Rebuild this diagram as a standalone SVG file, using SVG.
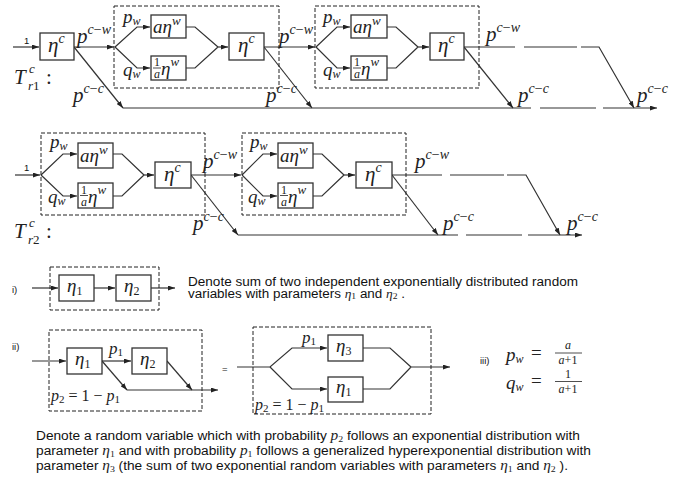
<svg xmlns="http://www.w3.org/2000/svg" width="688" height="479" viewBox="0 0 688 479">
<defs>
<marker id="ah" markerUnits="userSpaceOnUse" markerWidth="7" markerHeight="5" refX="7" refY="2.5" orient="auto"><path d="M0,0 L7,2.5 L0,5 z" fill="#222"/></marker>
</defs>
<style>
.box{fill:#fff;stroke:#333;stroke-width:1.3}
.dash{fill:none;stroke:#222;stroke-width:1;stroke-dasharray:4 2}
.ln{fill:none;stroke:#333;stroke-width:1.2}
.m{font-family:"Liberation Serif","DejaVu Serif",serif;font-style:italic;fill:#222}
.u{font-style:normal}
.big{font-size:21px}
.mid{font-size:19px}
.lbl{font-size:17px}
.sp{font-size:14px}
.sw{font-size:13px}
.sb{font-size:11px}
.fr{font-size:12px}
.t{font-family:"Liberation Sans",Arial,sans-serif;font-size:12.5px;fill:#111}
.s{font-family:"Liberation Sans",Arial,sans-serif;font-size:9.5px;fill:#111}
</style>
<rect width="688" height="479" fill="#fff"/>

<g id="connectors">
<path class="ln" d="M13,47 H39" marker-end="url(#ah)"/>
<path class="ln" d="M74,47 H114" marker-end="url(#ah)"/>
<path class="ln" d="M115,47 L137,27 H150" marker-end="url(#ah)"/>
<path class="ln" d="M115,47 L137,68 H150" marker-end="url(#ah)"/>
<path class="ln" d="M186,27 H195 L218,47 M186,68 H195 L218,47"/>
<path class="ln" d="M218,47 H228" marker-end="url(#ah)"/>
<path class="ln" d="M264,47 H315" marker-end="url(#ah)"/>
<path class="ln" d="M316,47 L337,27 H350" marker-end="url(#ah)"/>
<path class="ln" d="M316,47 L337,68 H350" marker-end="url(#ah)"/>
<path class="ln" d="M387,27 H396 L418,47 M387,68 H396 L418,47"/>
<path class="ln" d="M418,47 H429" marker-end="url(#ah)"/>
<path class="ln" d="M464,47 H515 M524,47 H577"/>
<path class="ln" d="M581,47 H599 L634,108" marker-end="url(#ah)"/>
<path class="ln" d="M74,47 L123,108" marker-end="url(#ah)"/>
<path class="ln" d="M264,47 L312,108" marker-end="url(#ah)"/>
<path class="ln" d="M464,47 L513,108" marker-end="url(#ah)"/>
<path class="ln" d="M123,108 H531 M540,108 H596"/>
<path class="ln" d="M603,108 H657" marker-end="url(#ah)"/>

<path class="ln" d="M15,175 H40" marker-end="url(#ah)"/>
<path class="ln" d="M41,175 L63,154 H77" marker-end="url(#ah)"/>
<path class="ln" d="M41,175 L63,196 H77" marker-end="url(#ah)"/>
<path class="ln" d="M113,154 H122 L144,175 M113,196 H122 L144,175"/>
<path class="ln" d="M144,175 H154" marker-end="url(#ah)"/>
<path class="ln" d="M191,175 H241" marker-end="url(#ah)"/>
<path class="ln" d="M191,175 L238,235" marker-end="url(#ah)"/>
<path class="ln" d="M242,175 L263,154 H277" marker-end="url(#ah)"/>
<path class="ln" d="M242,175 L263,196 H277" marker-end="url(#ah)"/>
<path class="ln" d="M313,154 H322 L344,175 M313,196 H322 L344,175"/>
<path class="ln" d="M344,175 H355" marker-end="url(#ah)"/>
<path class="ln" d="M392,175 H442 M450,175 H504"/>
<path class="ln" d="M507,175 H526 L560,235" marker-end="url(#ah)"/>
<path class="ln" d="M392,175 L438,235" marker-end="url(#ah)"/>
<path class="ln" d="M238,235 H458 M466,235 H522"/>
<path class="ln" d="M528,235 H582" marker-end="url(#ah)"/>

<path class="ln" d="M32,288 H58" marker-end="url(#ah)"/>
<path class="ln" d="M94,288 H115" marker-end="url(#ah)"/>
<path class="ln" d="M151,288 H175" marker-end="url(#ah)"/>

<path class="ln" d="M32,361 H66" marker-end="url(#ah)"/>
<path class="ln" d="M102,361 H131" marker-end="url(#ah)"/>
<path class="ln" d="M102,361 L127,390" marker-end="url(#ah)"/>
<path class="ln" d="M167,361 L192,390" marker-end="url(#ah)"/>
<path class="ln" d="M127,390 H218" marker-end="url(#ah)"/>
<path class="ln" d="M237,367 H270 L292,348 H327" marker-end="url(#ah)"/>
<path class="ln" d="M270,367 L292,389 H327" marker-end="url(#ah)"/>
<path class="ln" d="M363,348 H390 L411,367 M363,389 H390 L411,367"/>
<path class="ln" d="M411,367 H450" marker-end="url(#ah)"/>
</g>

<g id="groups">
<rect class="dash" x="114" y="6" width="165" height="82"/>
<rect class="dash" x="315" y="6" width="164" height="82"/>
<rect class="dash" x="41" y="133" width="164" height="82"/>
<rect class="dash" x="242" y="133" width="164" height="82"/>
<rect class="dash" x="50" y="267" width="109" height="43"/>
<rect class="dash" x="49" y="330" width="153" height="81"/>
<rect class="dash" x="253" y="327" width="178" height="87"/>
</g>

<!-- Row 1 -->
<g id="r1-c1"><rect class="box" x="40" y="33" width="34" height="27"/><text class="m big" x="48" y="52">η<tspan class="sp" dy="-9">c</tspan></text></g>
<g id="r1-w1a"><rect class="box" x="151" y="15" width="35" height="23"/><text class="m mid" x="153" y="33">aη<tspan class="sw" dy="-8">w</tspan></text></g>
<g id="r1-w1b"><rect class="box" x="151" y="56" width="35" height="24"/><text class="m fr u" x="157" y="66" text-anchor="middle">1</text><line x1="153" y1="68" x2="161" y2="68" stroke="#222" stroke-width="0.8"/><text class="m fr" x="157" y="78" text-anchor="middle">a</text><text class="m mid" x="161" y="75">η<tspan class="sw" dy="-9">w</tspan></text></g>
<g id="r1-c2"><rect class="box" x="229" y="33" width="35" height="27"/><text class="m big" x="238" y="52">η<tspan class="sp" dy="-9">c</tspan></text></g>
<g id="r1-w2a"><rect class="box" x="351" y="15" width="36" height="23"/><text class="m mid" x="353" y="33">aη<tspan class="sw" dy="-8">w</tspan></text></g>
<g id="r1-w2b"><rect class="box" x="351" y="56" width="36" height="24"/><text class="m fr u" x="357" y="66" text-anchor="middle">1</text><line x1="353" y1="68" x2="361" y2="68" stroke="#222" stroke-width="0.8"/><text class="m fr" x="357" y="78" text-anchor="middle">a</text><text class="m mid" x="361" y="75">η<tspan class="sw" dy="-9">w</tspan></text></g>
<g id="r1-c3"><rect class="box" x="430" y="33" width="34" height="27"/><text class="m big" x="438" y="52">η<tspan class="sp" dy="-9">c</tspan></text></g>

<!-- Row 2 -->
<g id="r2-w1a"><rect class="box" x="78" y="143" width="35" height="25"/><text class="m mid" x="80" y="162">aη<tspan class="sw" dy="-8">w</tspan></text></g>
<g id="r2-w1b"><rect class="box" x="78" y="183" width="35" height="25"/><text class="m fr u" x="84" y="193.5" text-anchor="middle">1</text><line x1="80" y1="195.5" x2="88" y2="195.5" stroke="#222" stroke-width="0.8"/><text class="m fr" x="84" y="206" text-anchor="middle">a</text><text class="m mid" x="88" y="203">η<tspan class="sw" dy="-9">w</tspan></text></g>
<g id="r2-c1"><rect class="box" x="155" y="162" width="36" height="26"/><text class="m big" x="164" y="181">η<tspan class="sp" dy="-9">c</tspan></text></g>
<g id="r2-w2a"><rect class="box" x="278" y="143" width="35" height="25"/><text class="m mid" x="280" y="162">aη<tspan class="sw" dy="-8">w</tspan></text></g>
<g id="r2-w2b"><rect class="box" x="278" y="183" width="35" height="25"/><text class="m fr u" x="284" y="193.5" text-anchor="middle">1</text><line x1="280" y1="195.5" x2="288" y2="195.5" stroke="#222" stroke-width="0.8"/><text class="m fr" x="284" y="206" text-anchor="middle">a</text><text class="m mid" x="288" y="203">η<tspan class="sw" dy="-9">w</tspan></text></g>
<g id="r2-c2"><rect class="box" x="356" y="162" width="36" height="26"/><text class="m big" x="365" y="181">η<tspan class="sp" dy="-9">c</tspan></text></g>

<!-- part i -->
<g id="i-e1"><rect class="box" x="59" y="275" width="35" height="26"/><text class="m mid" x="67" y="292">η<tspan class="fr u" dy="3">1</tspan></text></g>
<g id="i-e2"><rect class="box" x="116" y="275" width="35" height="26"/><text class="m mid" x="124" y="292">η<tspan class="fr u" dy="3">2</tspan></text></g>

<!-- part ii -->
<g id="ii-e1"><rect class="box" x="67" y="348" width="35" height="26"/><text class="m mid" x="75" y="365">η<tspan class="fr u" dy="3">1</tspan></text></g>
<g id="ii-e2"><rect class="box" x="132" y="348" width="35" height="26"/><text class="m mid" x="140" y="365">η<tspan class="fr u" dy="3">2</tspan></text></g>
<g id="ii-e3"><rect class="box" x="328" y="335" width="35" height="26"/><text class="m mid" x="336" y="352">η<tspan class="fr u" dy="3">3</tspan></text></g>
<g id="ii-e1b"><rect class="box" x="328" y="377" width="35" height="25"/><text class="m mid" x="336" y="393">η<tspan class="fr u" dy="3">1</tspan></text></g>

<g id="labels">
<text class="s" x="24" y="44" font-size="10">1</text>
<text class="s" x="24" y="171" font-size="10">1</text>
<text class="m" font-size="21" x="14" y="84">T<tspan class="sw" x="29" y="73">c</tspan><tspan class="sw" x="28" y="90">r<tspan class="u">1</tspan></tspan><tspan class="u" x="46" y="84">:</tspan></text>
<text class="m" font-size="21" x="14" y="238">T<tspan class="sw" x="29" y="227">c</tspan><tspan class="sw" x="28" y="244">r<tspan class="u">2</tspan></tspan><tspan class="u" x="46" y="238">:</tspan></text>

<text class="m big" x="77" y="43">p<tspan class="sp" dy="-9">c<tspan class="u">−</tspan>w</tspan></text>
<text class="m big" x="279" y="43">p<tspan class="sp" dy="-9">c<tspan class="u">−</tspan>w</tspan></text>
<text class="m big" x="486" y="41">p<tspan class="sp" dy="-9">c<tspan class="u">−</tspan>w</tspan></text>
<text class="m big" x="73" y="102">p<tspan class="sp" dy="-9">c<tspan class="u">−</tspan>c</tspan></text>
<text class="m big" x="266" y="102">p<tspan class="sp" dy="-9">c<tspan class="u">−</tspan>c</tspan></text>
<text class="m big" x="518" y="102">p<tspan class="sp" dy="-9">c<tspan class="u">−</tspan>c</tspan></text>
<text class="m big" x="637" y="102">p<tspan class="sp" dy="-9">c<tspan class="u">−</tspan>c</tspan></text>
<text class="m big" x="203" y="168">p<tspan class="sp" dy="-9">c<tspan class="u">−</tspan>w</tspan></text>
<text class="m big" x="415" y="168">p<tspan class="sp" dy="-9">c<tspan class="u">−</tspan>w</tspan></text>
<text class="m big" x="193" y="230">p<tspan class="sp" dy="-9">c<tspan class="u">−</tspan>c</tspan></text>
<text class="m big" x="443" y="230">p<tspan class="sp" dy="-9">c<tspan class="u">−</tspan>c</tspan></text>
<text class="m big" x="567" y="230">p<tspan class="sp" dy="-9">c<tspan class="u">−</tspan>c</tspan></text>

<text class="m mid" x="123" y="23">p<tspan class="fr" dy="2">w</tspan></text>
<text class="m mid" x="123" y="76">q<tspan class="fr" dy="2">w</tspan></text>
<text class="m mid" x="323" y="23">p<tspan class="fr" dy="2">w</tspan></text>
<text class="m mid" x="323" y="76">q<tspan class="fr" dy="2">w</tspan></text>
<text class="m mid" x="50" y="148">p<tspan class="fr" dy="2">w</tspan></text>
<text class="m mid" x="48" y="203">q<tspan class="fr" dy="2">w</tspan></text>
<text class="m mid" x="250" y="148">p<tspan class="fr" dy="2">w</tspan></text>
<text class="m mid" x="248" y="203">q<tspan class="fr" dy="2">w</tspan></text>

<text class="s" x="12" y="293">i)</text>
<text class="t" x="188" y="286" textLength="390" lengthAdjust="spacingAndGlyphs">Denote sum of two independent exponentially distributed random</text>
<text class="t" x="188" y="298" textLength="217" lengthAdjust="spacingAndGlyphs">variables with parameters <tspan class="m">η</tspan><tspan class="m u" font-size="9" dy="1">1</tspan><tspan dy="-1"> and </tspan><tspan class="m">η</tspan><tspan class="m u" font-size="9" dy="1">2</tspan><tspan dy="-1"> .</tspan></text>

<text class="s" x="12" y="350">ii)</text>
<text class="m" font-size="17" x="109" y="354">p<tspan class="u" font-size="11" dy="2">1</tspan></text>
<text class="m" font-size="16" x="51" y="401">p<tspan class="u" font-size="11" dy="2">2</tspan><tspan class="u" dy="-2"> = 1 − </tspan>p<tspan class="u" font-size="11" dy="2">1</tspan></text>
<text class="s" x="222" y="372" font-size="11">=</text>
<text class="m" font-size="17" x="302" y="343">p<tspan class="u" font-size="11" dy="2">1</tspan></text>
<text class="m" font-size="16" x="255" y="410">p<tspan class="u" font-size="11" dy="2">2</tspan><tspan class="u" dy="-2"> = 1 − </tspan>p<tspan class="u" font-size="11" dy="2">1</tspan></text>

<text class="s" x="480" y="364">iii)</text>
<text class="m" font-size="19" x="506" y="361">p<tspan class="fr" dy="2">w</tspan></text>
<text class="m u" font-size="19" x="531" y="359">=</text>
<text class="m fr" x="568" y="349" text-anchor="middle">a</text>
<line x1="555" y1="353" x2="582" y2="353" stroke="#222" stroke-width="0.8"/>
<text class="m fr" x="568" y="364" text-anchor="middle">a<tspan class="u">+1</tspan></text>
<text class="m" font-size="19" x="506" y="389">q<tspan class="fr" dy="2">w</tspan></text>
<text class="m u" font-size="19" x="531" y="387">=</text>
<text class="m fr u" x="568" y="378" text-anchor="middle">1</text>
<line x1="555" y1="381.5" x2="582" y2="381.5" stroke="#222" stroke-width="0.8"/>
<text class="m fr" x="568" y="393" text-anchor="middle">a<tspan class="u">+1</tspan></text>

<text class="t" x="36" y="440" textLength="544" lengthAdjust="spacingAndGlyphs">Denote a random variable which with probability <tspan class="m" font-size="14">p</tspan><tspan class="m u" font-size="9" dy="2">2</tspan><tspan dy="-2"> follows an exponential distribution with</tspan></text>
<text class="t" x="36" y="455" textLength="555" lengthAdjust="spacingAndGlyphs">parameter <tspan class="m" font-size="14">η</tspan><tspan class="m u" font-size="9" dy="2">1</tspan><tspan dy="-2"> and with probability </tspan><tspan class="m" font-size="14">p</tspan><tspan class="m u" font-size="9" dy="2">1</tspan><tspan dy="-2"> follows a generalized hyperexponential distribution with</tspan></text>
<text class="t" x="36" y="470" textLength="532" lengthAdjust="spacingAndGlyphs">parameter <tspan class="m" font-size="14">η</tspan><tspan class="m u" font-size="9" dy="2">3</tspan><tspan dy="-2"> (the sum of two exponential random variables with parameters </tspan><tspan class="m" font-size="14">η</tspan><tspan class="m u" font-size="9" dy="2">1</tspan><tspan dy="-2"> and </tspan><tspan class="m" font-size="14">η</tspan><tspan class="m u" font-size="9" dy="2">2</tspan><tspan dy="-2"> ).</tspan></text>
</g>
</svg>
